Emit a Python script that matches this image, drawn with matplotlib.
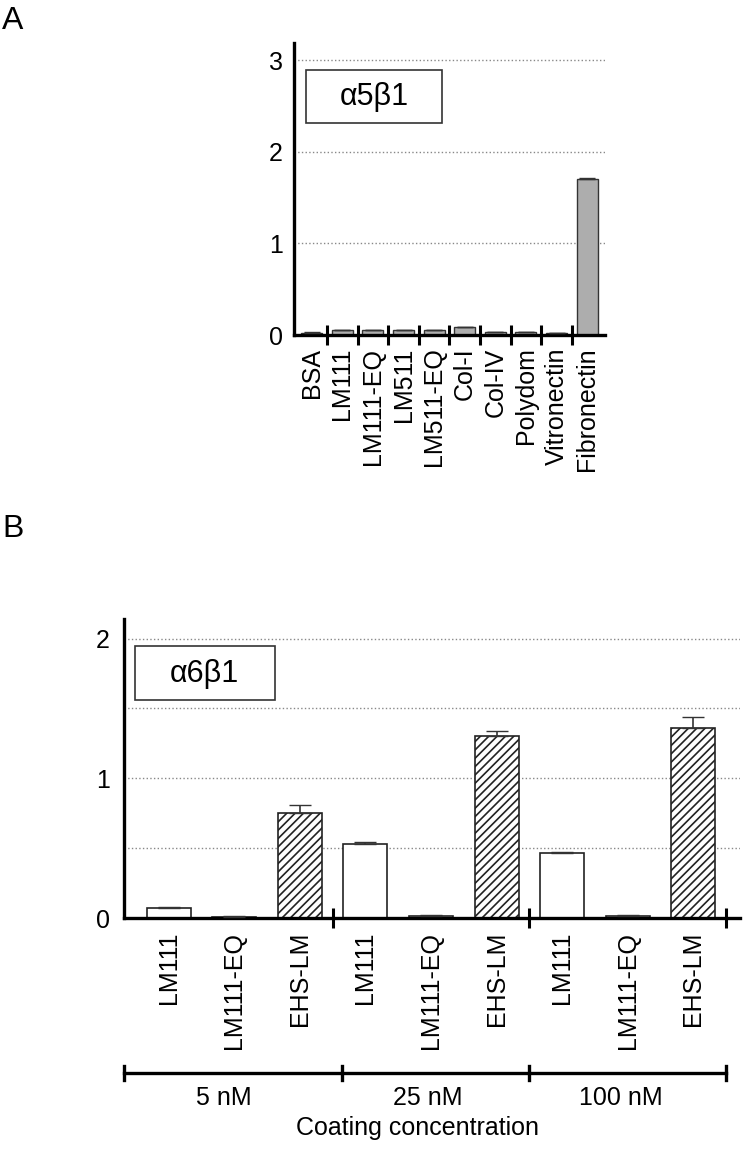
import numpy as np
import matplotlib.pyplot as plt
from matplotlib.patches import Rectangle
import matplotlib.transforms as mtransforms

plt.rcParams['font.family'] = ['Liberation Sans', 'DejaVu Sans']
plt.rcParams['hatch.linewidth'] = 1.2

############################################
# data, panel A (alpha5 beta1)
a_labels = ['BSA', 'LM111', 'LM111-EQ', 'LM511', 'LM511-EQ', 'Col-I',
            'Col-IV', 'Polydom', 'Vitronectin', 'Fibronectin']
a_values = [0.025, 0.055, 0.05, 0.055, 0.055, 0.085, 0.03, 0.03, 0.02, 1.70]
a_errors = [0.004, 0.004, 0.004, 0.004, 0.004, 0.005, 0.003, 0.003, 0.003, 0.01]
a_grid = [1, 2, 3]

# data, panel B (alpha6 beta1)
b_labels = ['LM111', 'LM111-EQ', 'EHS-LM'] * 3
b_values = [0.07, 0.01, 0.75, 0.53, 0.015, 1.30, 0.465, 0.015, 1.36]
b_errors = [0.008, 0.003, 0.06, 0.015, 0.004, 0.035, 0.008, 0.004, 0.075]
b_hatched = [False, False, True] * 3
b_groups = ['5 nM', '25 nM', '100 nM']
b_grid = [0.5, 1, 1.5, 2]

FS = 18

#############################################
## Plotting Data
fig = plt.figure(figsize=(7.45, 11.52), dpi=100)
axA = fig.add_axes([0.3946, 0.7092, 0.4175, 0.2535])
axB = fig.add_axes([0.1664, 0.2031, 0.8266, 0.2596])

for ax in (axA, axB):
    for s in ['top', 'right']:
        ax.spines[s].set_visible(False)
    ax.spines['left'].set_linewidth(2.4)
    ax.spines['bottom'].set_linewidth(2.4)

# panel A
xa = np.arange(len(a_labels))
for g in a_grid:
    axA.axhline(g, color='#888888', ls=':', lw=1, zorder=0)
axA.bar(xa, a_values, 0.69, color='#adadad', edgecolor='#333333', lw=1, zorder=2)
axA.errorbar(xa, a_values, yerr=[np.zeros(len(a_errors)), a_errors], fmt='none',
             ecolor='#333333', elinewidth=1, capsize=6, zorder=3)
axA.set_xlim(-0.58, 9.585)
axA.set_ylim(0, 3.19)
axA.set_xticks(xa)
axA.set_xticklabels(a_labels, rotation=90, fontsize=FS)
axA.set_xticks(xa[:-1] + 0.5, minor=True)
axA.tick_params(axis='x', which='major', length=0, pad=9)
axA.tick_params(axis='x', which='minor', direction='inout', length=15, width=2.2)
axA.set_yticks([0, 1, 2, 3])
axA.set_yticklabels(['0', '1', '2', '3'], fontsize=18)
axA.tick_params(axis='y', length=0, pad=8)
axA.add_patch(Rectangle((0.0386, 0.726), 0.437, 0.1815, transform=axA.transAxes,
                        fill=False, ec='#333333', lw=1.2, clip_on=False))
axA.text(0.257, 0.815, 'α5β1', transform=axA.transAxes, ha='center',
         va='center', fontsize=22)

# panel B
xb = np.arange(len(b_labels))
for g in b_grid:
    axB.axhline(g, color='#888888', ls=':', lw=1, zorder=0)
for x, v, h in zip(xb, b_values, b_hatched):
    axB.bar(x, v, 0.67, color='white', edgecolor='#222222', lw=1.2,
            hatch='////' if h else None, zorder=2)
axB.errorbar(xb, b_values, yerr=[np.zeros(len(b_errors)), b_errors], fmt='none',
             ecolor='#333333', elinewidth=1.2, capsize=8, zorder=3)
axB.set_xlim(-0.683, 8.71)
axB.set_ylim(0, 2.14)
axB.set_xticks(xb)
axB.set_xticklabels(b_labels, rotation=90, fontsize=FS)
axB.set_xticks([2.5, 5.5, 8.5], minor=True)
axB.tick_params(axis='x', which='major', length=0, pad=10)
axB.tick_params(axis='x', which='minor', direction='inout', length=15, width=2.2)
axB.set_yticks([0, 1, 2])
axB.set_yticklabels(['0', '1', '2'], fontsize=18)
axB.tick_params(axis='y', length=0, pad=10)
axB.add_patch(Rectangle((0.0179, 0.729), 0.227, 0.1806, transform=axB.transAxes,
                        fill=False, ec='#333333', lw=1.2, clip_on=False))
axB.text(0.13, 0.817, 'α6β1', transform=axB.transAxes, ha='center',
         va='center', fontsize=22)

# coating concentration bracket
trans = mtransforms.blended_transform_factory(axB.transData, axB.transAxes)
br = [-0.683, 2.65, 5.5, 8.5]
axB.plot([br[0], br[-1]], [-0.518, -0.518], color='black', lw=2.4,
         transform=trans, clip_on=False)
for b in br:
    axB.plot([b, b], [-0.496, -0.54], color='black', lw=2.4,
             transform=trans, clip_on=False)
for xg, lab in zip([0.84, 3.95, 6.9], b_groups):
    axB.text(xg, -0.602, lab, transform=trans, ha='center', va='center', fontsize=FS)
axB.text(3.8, -0.702, 'Coating concentration', transform=trans, ha='center',
         va='center', fontsize=FS)

fig.text(0.003, 1 - 6 / 1152, 'A', ha='left', va='top', fontsize=23)
fig.text(0.003, 1 - 514 / 1152, 'B', ha='left', va='top', fontsize=23)

fig.savefig('out.png', dpi=100)
